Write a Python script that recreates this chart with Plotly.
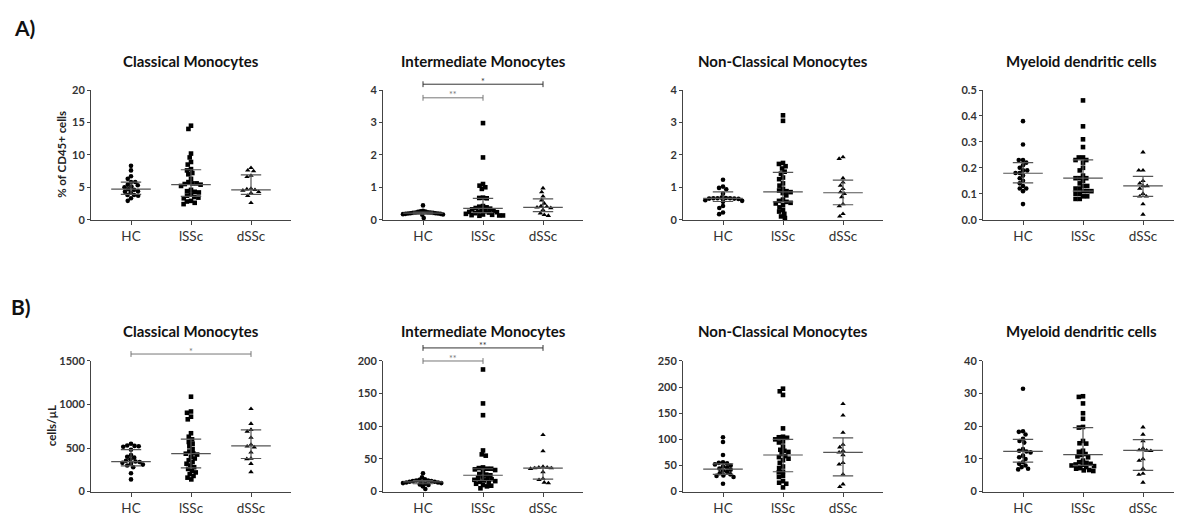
import numpy as np
import plotly.graph_objects as go

# ---------------- DATA ----------------
groups = ["HC", "lSSc", "dSSc"]

titles = ["Classical Monocytes", "Intermediate Monocytes", "Non-Classical Monocytes", "Myeloid dendritic cells"]
row_labels = ["A)", "B)"]
y_titles = ["% of CD45+ cells", "cells/µL"]

# Row A: % of CD45+ cells
a1_hc = [8.3, 7.6, 6.7, 6.3, 5.8, 5.8, 5.4, 5.3, 5.1, 5.0, 4.7, 4.6, 4.4, 4.3, 4.2, 3.8, 3.8, 3.7, 3.3, 2.9]
a1_lssc = [14.5, 14.0, 10.2, 9.6, 8.9, 8.5, 7.8, 7.6, 7.2, 7.0, 6.3, 5.8, 5.6, 5.6, 5.5, 5.4, 5.2, 4.6, 4.4, 4.3,
           4.2, 3.9, 3.7, 3.5, 3.4, 3.3, 2.9, 2.8, 2.6, 2.4]
a1_dssc = [8.0, 7.6, 7.5, 6.8, 6.6, 4.8, 4.7, 4.6, 4.5, 4.3, 4.1, 3.7, 2.6]

a2_hc = [0.44, 0.27, 0.26, 0.25, 0.24, 0.23, 0.22, 0.22, 0.21, 0.21, 0.20, 0.20, 0.19, 0.19, 0.18, 0.18, 0.17, 0.16, 0.15, 0.05]
a2_lssc = [2.98, 1.92, 1.10, 1.05, 1.00, 0.95, 0.68, 0.67, 0.66, 0.42, 0.40, 0.38, 0.36, 0.34, 0.32, 0.30, 0.28, 0.26,
           0.25, 0.24, 0.23, 0.22, 0.20, 0.18, 0.16, 0.15, 0.14, 0.13, 0.13, 0.12]
a2_dssc = [0.97, 0.85, 0.72, 0.60, 0.50, 0.42, 0.40, 0.38, 0.36, 0.30, 0.20, 0.15, 0.12]

a3_hc = [1.23, 1.02, 0.98, 0.94, 0.80, 0.68, 0.67, 0.66, 0.66, 0.66, 0.65, 0.65, 0.64, 0.60, 0.58, 0.55, 0.42, 0.36, 0.22, 0.17]
a3_lssc = [3.22, 3.05, 1.75, 1.72, 1.65, 1.58, 1.48, 1.42, 1.30, 1.25, 1.12, 1.05, 0.95, 0.90, 0.88, 0.85, 0.82, 0.75,
           0.62, 0.58, 0.55, 0.52, 0.50, 0.45, 0.38, 0.30, 0.25, 0.18, 0.10, 0.05]
a3_dssc = [1.93, 1.88, 1.28, 1.15, 1.05, 0.95, 0.85, 0.80, 0.70, 0.48, 0.42, 0.18, 0.10]

a4_hc = [0.38, 0.29, 0.23, 0.23, 0.22, 0.21, 0.20, 0.19, 0.19, 0.18, 0.18, 0.17, 0.16, 0.15, 0.14, 0.13, 0.12, 0.12, 0.11, 0.06]
a4_lssc = [0.46, 0.36, 0.31, 0.28, 0.24, 0.24, 0.23, 0.23, 0.22, 0.20, 0.19, 0.17, 0.16, 0.16, 0.16, 0.15, 0.14, 0.13,
           0.13, 0.12, 0.12, 0.11, 0.11, 0.11, 0.10, 0.10, 0.09, 0.09, 0.08, 0.08]
a4_dssc = [0.26, 0.19, 0.19, 0.15, 0.14, 0.13, 0.13, 0.12, 0.10, 0.09, 0.09, 0.06, 0.02]

# Row B: cells/µL
b1_hc = [550, 530, 525, 520, 515, 480, 420, 400, 390, 370, 355, 345, 340, 330, 320, 310, 300, 280, 210, 140]
b1_lssc = [1090, 920, 905, 860, 830, 670, 630, 600, 570, 550, 520, 490, 460, 440, 435, 425, 400, 380, 360, 340,
           320, 300, 280, 260, 240, 220, 200, 180, 160, 140]
b1_dssc = [950, 780, 710, 690, 620, 540, 520, 510, 450, 380, 375, 320, 225]

b2_hc = [28, 22, 19, 18, 17, 17, 16, 16, 15, 15, 15, 14, 14, 13, 13, 12, 11, 10, 8, 4]
b2_lssc = [187, 135, 117, 63, 57, 55, 37, 36, 35, 35, 34, 33, 30, 27, 26, 25, 23, 21, 20, 19, 18, 17, 16, 15, 14,
           12, 10, 9, 8, 5]
b2_dssc = [87, 62, 38, 37, 37, 36, 36, 35, 30, 20, 18, 14, 13]

b3_hc = [104, 95, 70, 56, 55, 54, 52, 50, 48, 46, 44, 42, 40, 38, 35, 33, 31, 30, 28, 15]
b3_lssc = [197, 192, 185, 121, 105, 104, 103, 100, 96, 94, 86, 80, 78, 76, 72, 68, 66, 63, 60, 55, 48, 45, 38, 37,
           30, 28, 20, 17, 15, 8]
b3_dssc = [168, 146, 113, 90, 85, 78, 75, 70, 55, 52, 33, 14, 9]

b4_hc = [31.5, 18.5, 18.3, 17.5, 16.2, 15.5, 15.0, 13.0, 12.5, 12.3, 12.0, 11.0, 10.5, 10.0, 9.0, 8.5, 8.0, 7.5, 7.0, 6.8]
b4_lssc = [29.2, 29.0, 27.0, 24.0, 22.3, 19.8, 19.6, 15.5, 14.8, 14.7, 12.5, 12.2, 11.5, 11.2, 10.8, 10.5, 9.5, 9.0,
           8.8, 8.5, 8.3, 8.2, 8.0, 7.8, 7.5, 7.2, 7.0, 6.6, 6.5, 6.3]
b4_dssc = [19.7, 17.5, 15.5, 13.2, 12.7, 12.6, 12.5, 10.0, 9.5, 7.0, 5.5, 5.2, 2.8]

# median, Q1, Q3 per group (HC, lSSc, dSSc)
a1_stats = [[4.7, 3.9, 5.8], [5.4, 3.6, 7.7], [4.6, 3.9, 6.9]]
a2_stats = [[0.20, 0.17, 0.23], [0.35, 0.22, 0.66], [0.38, 0.25, 0.64]]
a3_stats = [[0.66, 0.56, 0.86], [0.86, 0.55, 1.46], [0.83, 0.46, 1.22]]
a4_stats = [[0.179, 0.142, 0.22], [0.16, 0.11, 0.231], [0.13, 0.09, 0.167]]
b1_stats = [[345, 295, 482], [437, 272, 603], [525, 380, 708]]
b2_stats = [[15, 12, 17], [25, 17, 35], [36, 19, 37]]
b3_stats = [[43, 33, 53], [70, 38, 100], [75, 30, 103]]
b4_stats = [[12.3, 9.0, 16.0], [11.3, 8.0, 19.6], [12.6, 6.5, 15.9]]

# y-axis max and tick step
y_max = [20, 4, 4, 0.5, 1500, 200, 250, 40]
y_step = [5, 1, 1, 0.1, 500, 50, 50, 10]

# significance brackets: panel index, group from, group to, y value, label
brackets = [
    (1, 0, 2, 4.18, "*"),
    (1, 0, 1, 3.76, "**"),
    (4, 0, 2, 1580, "*"),
    (5, 0, 2, 220, "**"),
    (5, 0, 1, 200, "**"),
]

panel_data = [
    (a1_hc, a1_lssc, a1_dssc, a1_stats),
    (a2_hc, a2_lssc, a2_dssc, a2_stats),
    (a3_hc, a3_lssc, a3_dssc, a3_stats),
    (a4_hc, a4_lssc, a4_dssc, a4_stats),
    (b1_hc, b1_lssc, b1_dssc, b1_stats),
    (b2_hc, b2_lssc, b2_dssc, b2_stats),
    (b3_hc, b3_lssc, b3_dssc, b3_stats),
    (b4_hc, b4_lssc, b4_dssc, b4_stats),
]

# ---------------- LAYOUT (pixels of the 1182x520 window) ----------------
OFF = 8                      # default page margin of the html body
W, H = 1182 - OFF, 520 - OFF  # figure size
col_x0 = [91, 383, 683, 983]
col_w = [200, 200, 200, 197]
row_top = [85, 363]
row_bot = [218, 497]
cat_offset_px = 40.0
cat_step_px = 60.0

AX = "#444444"
TXT = "#222222"
LINE = "#555555"
symbols = ["circle", "square", "triangle-up"]
sizes = [4.6, 4.6, 4.8]
FONT = "Lato"


def px_x(x):
    return (x - OFF) / W


def px_y(y):
    return 1 - (y - OFF) / H


def swarm_offsets(vals, px_per_unit, d=4.2, max_half=20.0):
    """Deterministic beeswarm layout: returns x offsets (pixels)."""
    vals = np.asarray(vals, dtype=float)
    order = np.argsort(-vals, kind="stable")
    placed = []
    out = np.zeros(len(vals))
    for i in order:
        y = vals[i] * px_per_unit
        cands = [0.0]
        for (py, pxx) in placed:
            dy = abs(py - y)
            if dy < d:
                dx = np.sqrt(d * d - dy * dy)
                cands += [pxx + dx, pxx - dx]
        cands = sorted(cands, key=lambda c: (abs(c), c))
        for c in cands:
            ok = all((c - pxx) ** 2 + (y - py) ** 2 >= d * d - 1e-6 for (py, pxx) in placed)
            if ok:
                out[i] = c
                placed.append((y, c))
                break
    m = np.max(np.abs(out)) if len(out) else 0
    if m > max_half:
        out = out * (max_half / m)
    return out


fig = go.Figure()
layout = dict(
    width=W, height=H, margin=dict(l=0, r=0, t=0, b=0),
    paper_bgcolor="white", plot_bgcolor="white", showlegend=False,
    font=dict(family=FONT, color=TXT),
)
annotations = []
shapes = []
geo = []

for p, (hc, ls, ds, stats) in enumerate(panel_data):
    r, c = divmod(p, 4)
    ax_id = "" if p == 0 else str(p + 1)
    x0, w = col_x0[c], col_w[c]
    top, bot = row_top[r], row_bot[r]
    xr = [-cat_offset_px / cat_step_px, (w - cat_offset_px) / cat_step_px]
    ymax = y_max[p]
    px_per_unit = (bot - top) / ymax
    geo.append((x0, w, top, bot, xr, ymax))

    layout["xaxis" + ax_id] = dict(
        domain=[px_x(x0), px_x(x0 + w)], range=xr, anchor="y" + ax_id,
        tickmode="array", tickvals=[0, 1, 2], ticktext=groups,
        ticks="outside", ticklen=4, tickwidth=1, tickcolor=AX,
        showline=True, linecolor=AX, linewidth=1, showgrid=False, zeroline=False,
        tickfont=dict(family=FONT, size=13.5, color="#333333"), fixedrange=True,
    )
    layout["yaxis" + ax_id] = dict(
        domain=[px_y(bot), px_y(top)], range=[0, ymax], anchor="x" + ax_id,
        tick0=0, dtick=y_step[p], ticks="outside", ticklen=3, tickwidth=1, tickcolor=AX,
        showline=True, linecolor=AX, linewidth=1, showgrid=False, zeroline=False,
        tickformat=".1f" if ymax < 1 else "d",
        tickfont=dict(family=FONT, size=11, color="#333333", weight="bold"), fixedrange=True,
    )

    # data points
    for g, vals in enumerate([hc, ls, ds]):
        offs = swarm_offsets(vals, px_per_unit) / cat_step_px
        fig.add_trace(go.Scatter(
            x=g + offs, y=vals, mode="markers", xaxis="x" + ax_id, yaxis="y" + ax_id,
            marker=dict(symbol=symbols[g], size=sizes[g], color="black", line=dict(width=0)),
            cliponaxis=False, hoverinfo="y",
        ))

    # median + IQR lines
    lx, ly = [], []
    for g, (med, q1, q3) in enumerate(stats):
        lx += [g - 0.33, g + 0.33, None, g, g, None, g - 0.17, g + 0.17, None, g - 0.17, g + 0.17, None]
        ly += [med, med, None, q1, q3, None, q1, q1, None, q3, q3, None]
    fig.add_trace(go.Scatter(
        x=lx, y=ly, mode="lines", xaxis="x" + ax_id, yaxis="y" + ax_id,
        line=dict(color=LINE, width=1.2), hoverinfo="skip",
    ))

    # panel title
    annotations.append(dict(
        text="<b>" + titles[c] + "</b>", x=px_x(x0 + w / 2), y=px_y(55 if r == 0 else 332),
        xref="paper", yref="paper", showarrow=False, xanchor="center", yanchor="middle",
        font=dict(family=FONT, size=15, color="#111111"),
    ))

# row labels
for r, (lab, yc) in enumerate(zip(row_labels, [21, 307])):
    annotations.append(dict(
        text="<b>" + lab + "</b>", x=px_x(12 if r == 0 else 9), y=px_y(yc), xref="paper", yref="paper",
        showarrow=False, xanchor="left", yanchor="middle", font=dict(family=FONT, size=21, color="#111111"),
    ))

# y-axis titles
for r, (lab, xc) in enumerate(zip(y_titles, [62, 51])):
    yc = (row_top[r] + row_bot[r]) / 2
    annotations.append(dict(
        text="<b>" + lab + "</b>", x=px_x(xc), y=px_y(yc), xref="paper", yref="paper", textangle=-90,
        showarrow=False, xanchor="center", yanchor="middle", font=dict(family=FONT, size=11.5, color="#222222"),
    ))


def to_px(p, xv, yv):
    x0, w, top, bot, xr, ymax = geo[p]
    xpx = x0 + (xv - xr[0]) / (xr[1] - xr[0]) * w
    ypx = bot - yv / ymax * (bot - top)
    return xpx, ypx


for k, (p, g0, g1, yv, lab) in enumerate(brackets):
    xa, ya = to_px(p, g0, yv)
    xb, _ = to_px(p, g1, yv)
    col = "#333333" if g1 == 2 and p != 4 else "#777777"
    segs = [(xa, ya, xb, ya), (xa, ya - 3, xa, ya + 3), (xb, ya - 3, xb, ya + 3)]
    for (sx0, sy0, sx1, sy1) in segs:
        shapes.append(dict(type="line", xref="paper", yref="paper",
                           x0=px_x(sx0), x1=px_x(sx1), y0=px_y(sy0), y1=px_y(sy1),
                           line=dict(color=col, width=1)))
    annotations.append(dict(
        text=lab, x=px_x((xa + xb) / 2), y=px_y(ya - 3), xref="paper", yref="paper",
        showarrow=False, xanchor="center", yanchor="middle", font=dict(family=FONT, size=9, color=col),
    ))

layout["annotations"] = annotations
layout["shapes"] = shapes
fig.update_layout(**layout)
fig.write_html("out.html")
